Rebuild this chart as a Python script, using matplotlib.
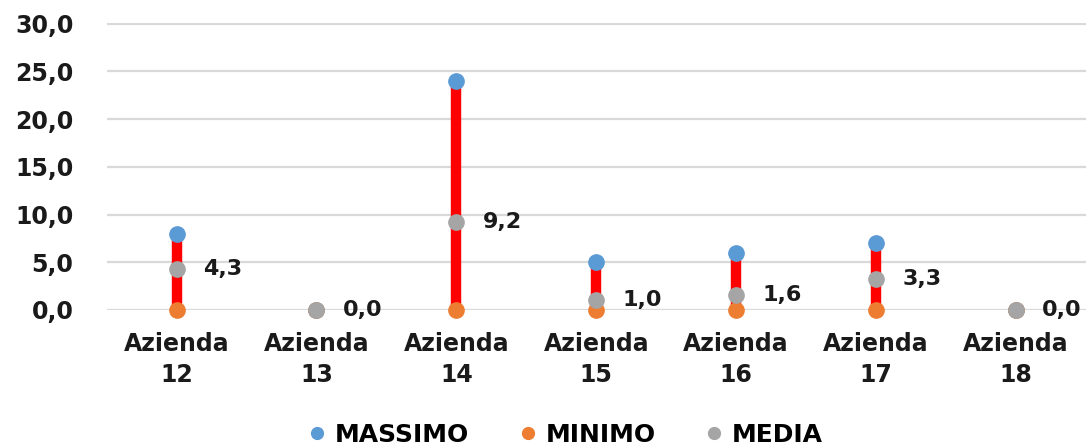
import matplotlib
matplotlib.use("Agg")
import matplotlib.pyplot as plt
from matplotlib.lines import Line2D

aziende = ["Azienda\n12", "Azienda\n13", "Azienda\n14", "Azienda\n15",
           "Azienda\n16", "Azienda\n17", "Azienda\n18"]
massimo = [8.0, 0.0, 24.0, 5.0, 6.0, 7.0, 0.0]
minimo = [0.0, 0.0, 0.0, 0.0, 0.0, 0.0, 0.0]
media = [4.3, 0.0, 9.2, 1.0, 1.6, 3.3, 0.0]

C_MAX = "#5b9bd5"
C_MIN = "#ed7d31"
C_MED = "#a5a5a5"

plt.rcParams.update({"font.family": "DejaVu Sans", "font.weight": "bold"})

fig = plt.figure(figsize=(10.88, 4.47), dpi=100)
ax = fig.add_axes([0.098, 0.3065, 0.9, 0.642])
x = list(range(len(aziende)))

# high-low bars
ax.vlines(x, minimo, massimo, color="red", lw=7.5, zorder=2)
ms = 11
ax.plot(x, massimo, "o", ls="none", color=C_MAX, ms=ms, zorder=3, clip_on=False)
ax.plot(x, minimo, "o", ls="none", color=C_MIN, ms=ms, zorder=3, clip_on=False)
ax.plot(x, media, "o", ls="none", color=C_MED, ms=ms, zorder=4, clip_on=False)

for xi, v in zip(x, media):
    ax.annotate(f"{v:.1f}".replace(".", ","), (xi, v), xytext=(19, 0),
                textcoords="offset points", va="center", ha="left",
                fontsize=16, fontweight="bold", color="#1a1a1a")

ax.set_xlim(-0.5, len(aziende) - 0.5)
ax.set_ylim(0, 30.08)
ax.set_yticks(range(0, 31, 5))
ax.set_yticklabels([f"{t:.1f}".replace(".", ",") for t in range(0, 31, 5)])
ax.set_xticks(x)
ax.set_xticklabels(aziende, linespacing=1.35)
ax.tick_params(axis="both", length=0, labelsize=17, colors="#1a1a1a")
ax.tick_params(axis="y", pad=24)
ax.tick_params(axis="x", pad=16)
ax.grid(axis="y", color="#d9d9d9", lw=1.6)
ax.set_axisbelow(True)
for s in ax.spines.values():
    s.set_visible(False)

handles = [Line2D([], [], marker="o", ls="none", color=c, ms=8.5)
           for c in (C_MAX, C_MIN, C_MED)]
fig.legend(handles, ["MASSIMO", "MINIMO", "MEDIA"], loc="center",
           bbox_to_anchor=(0.52, 0.027), ncol=3, frameon=False,
           fontsize=18, handlelength=0.7, handletextpad=0.35,
           columnspacing=2.0)

fig.savefig("out.png", dpi=100)
